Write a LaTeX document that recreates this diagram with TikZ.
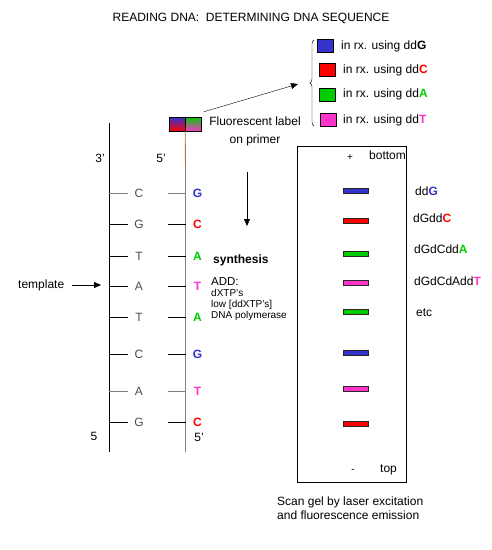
\documentclass[tikz,border=0pt]{standalone}
\usepackage{fontspec}
\setmainfont{Liberation Sans}
\usetikzlibrary{
	arrows.meta,
	positioning,
	decorations.pathreplacing
}
\definecolor{dnaG}{RGB}{51,51,204}
\definecolor{dnaC}{RGB}{255,0,0}
\definecolor{dnaA}{RGB}{0,204,0}
\definecolor{dnaT}{RGB}{255,51,204}
\definecolor{primerbrown}{RGB}{170,120,70}

\begin{document}
\begin{tikzpicture}[
			x=1pt, y=-1pt,
			font=\fontsize{12}{14}\selectfont,
			every node/.style={inner sep=0pt},
			swatch/.style={
					draw,
					minimum width=16pt,
					minimum height=13pt
				},
			band/.style={
					draw=black!85,
					minimum width=25pt,
					minimum height=5pt
				},
			base/.style={font=\fontsize{12}{14}\selectfont\bfseries},
			tmpl/.style={text=black!70},
			pointer/.style={-{Triangle[length=7pt,width=6pt]}}
		]
		\useasboundingbox (0,0) rectangle (492,550);
		\node (title) at (251,18) {READING DNA:\ \ DETERMINING DNA SEQUENCE};

		% legend of the four reactions
		\node[swatch, fill=dnaG] (keyG) at (325,45.5) {};
		\node[swatch, fill=dnaC] (keyC) at (327,69.5) {};
		\node[swatch, fill=dnaA] (keyA) at (327,94.5) {};
		\node[swatch, fill=dnaT] (keyT) at (328,120) {};
		\node[anchor=west] (txtG) at (341,46) {in rx. using dd\textbf{G}};
		\node[anchor=west] (txtC) at (343,70) {in rx. using dd\textcolor{dnaC}{\textbf{C}}};
		\node[anchor=west] (txtA) at (343,94.5) {in rx. using dd\textcolor{dnaA}{\textbf{A}}};
		\node[anchor=west] (txtT) at (343,120) {in rx. using dd\textcolor{dnaT}{\textbf{T}}};
		\draw[decorate, decoration={brace, amplitude=4pt}] (314,126) -- (314,40);
		\coordinate (braceTip) at (298,84);

		% labelled primer
		\node[draw, minimum width=16pt, minimum height=14pt, top color=dnaG, bottom color=dnaC] (primerL) at (177,124) {};
		\node[draw, minimum width=16pt, minimum height=14pt, top color=dnaA, bottom color=dnaT] (primerR) at (193.5,124) {};
		\draw[pointer] ([shift={(2,-5)}]primerR.north east) -- (braceTip);
		\node[align=center, font=\fontsize{12}{18}\selectfont] (flabel) at (255,131) {Fluorescent label\\ on primer};

		% the two strands
		\coordinate (s3) at (109,123);
		\coordinate (s3end) at (109,452);
		\coordinate (p5) at (185.5,168);
		\coordinate (p5end) at (185.5,452);
		\draw (s3) -- (s3end);
		\draw[primerbrown, line width=0.9pt] (primerL.south east) -- (p5);
		\draw[gray] (p5) -- (p5end);
		\node (end3) at (100,158) {3'};
		\node (end5) at (161,158) {5'};
		\node (bot5) at (94,436) {5};
		\node (bot5r) at (199,437) {5'};

		\foreach \y/\t/\c/\col/\rung [count=\i] in {
				193/C/G/dnaG/gray, 224/G/C/dnaC/black, 256/T/A/dnaA/black,
				286/A/T/dnaT/black, 317/T/A/dnaA/black, 354/C/G/dnaG/black,
				391/A/T/dnaT/gray, 422/G/C/dnaC/black} {
				\node[tmpl] (t\i) at (139,\y) {\t};
				\node[base, text=\col] (c\i) at (197.5,\y) {\c};
				\draw[\rung] (s3 |- t\i) -- ++(19,0);
				\draw[\rung] (p5 |- c\i) -- ++(-18,0);
			}

		\node[anchor=west] (tmplLabel) at (18,285) {template};
		\coordinate (tmplTip) at (101,284);
		\draw[pointer, shorten <=8pt] (tmplLabel.east) -- (tmplLabel.east -| tmplTip);

		% synthesis
		\coordinate (synTop) at (247,172);
		\coordinate (synBot) at (247,226);
		\draw[pointer] (synTop) -- (synBot);
		\node[anchor=west, base] (synth) at (213,260) {synthesis};
		\node[anchor=north west, align=left, font=\fontsize{10}{11}\selectfont] (recipe) at (211,277)
		{{\fontsize{11.5}{11}\selectfont ADD:}\\ dXTP's\\ low [ddXTP's]\\ DNA polymerase};

		% gel
		\node[draw, minimum width=109pt, minimum height=336pt] (gel) at (351.5,314) {};
		\node[font=\fontsize{10}{12}\selectfont] (plus) at (350,158) {+};
		\node[anchor=west] (bottomLabel) at (369,155) {bottom};
		\node[font=\fontsize{10}{12}\selectfont] (minus) at (353,471) {-};
		\node[anchor=west] (topLabel) at (380,470) {top};
		\foreach \y/\col [count=\i] in {191/dnaG, 221/dnaC, 254/dnaA, 283/dnaT,
				312/dnaA, 353/dnaG, 389/dnaT, 424/dnaC}
			\node[band, fill=\col] (band\i) at (355.5,\y) {};
		\node[anchor=west] (lab1) at (415,191) {dd\textcolor{dnaG}{\textbf{G}}};
		\node[anchor=west] (lab2) at (413,218) {dGdd\textcolor{dnaC}{\textbf{C}}};
		\node[anchor=west] (lab3) at (414,249) {dGdCdd\textcolor{dnaA}{\textbf{A}}};
		\node[anchor=west] (lab4) at (414,281) {dGdCdAdd\textcolor{dnaT}{\textbf{T}}};
		\node[anchor=west] (lab5) at (416,313) {etc};
		\node[anchor=west, align=left, font=\fontsize{12}{14.5}\selectfont] (caption) at (277,508)
		{Scan gel by laser excitation\\ and fluorescence emission};
	\end{tikzpicture}
\end{document}
